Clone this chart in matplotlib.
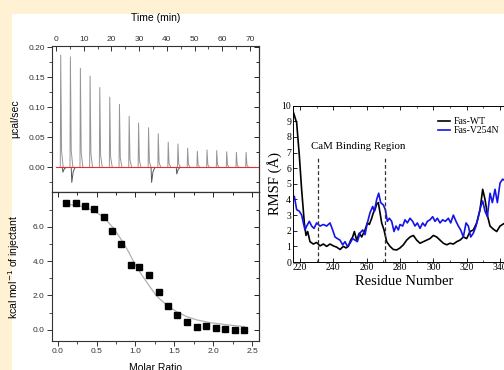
import numpy as np
import matplotlib
matplotlib.use('Agg')
import matplotlib.pyplot as plt
from matplotlib.patches import Rectangle
from matplotlib.ticker import MultipleLocator, FixedLocator, FormatStrFormatter

# ITC raw data: injection peaks (time in min, ucal/sec)
peak_times = [1.7, 5.2, 8.8, 12.3, 15.8, 19.4, 22.9, 26.4, 29.8, 33.4,
              36.9, 40.5, 44.0, 47.5, 51.0, 54.5, 58.0, 61.6, 65.1, 68.6]
peak_heights = [0.187, 0.184, 0.165, 0.152, 0.133, 0.117, 0.105, 0.085, 0.074, 0.066,
                0.056, 0.042, 0.039, 0.032, 0.027, 0.029, 0.028, 0.026, 0.025, 0.025]
dip_times = [2.5, 5.7, 34.5, 43.6]
dip_depths = [-0.008, -0.025, -0.025, -0.011]

# ITC integrated heats
molar_ratio = [0.11, 0.23, 0.35, 0.47, 0.59, 0.70, 0.82, 0.94, 1.05, 1.18,
               1.30, 1.42, 1.54, 1.66, 1.79, 1.91, 2.03, 2.15, 2.28, 2.40]
heat = [7.42, 7.42, 7.24, 7.03, 6.57, 5.77, 4.99, 3.78, 3.64, 3.20,
        2.18, 1.40, 0.86, 0.45, 0.18, 0.20, 0.08, 0.06, -0.04, -0.04]
fit_x = [0.10, 0.33, 0.46, 0.59, 0.72, 0.82, 0.91, 0.99, 1.08, 1.17,
         1.27, 1.40, 1.53, 1.66, 1.79, 1.96, 2.17, 2.40]
fit_y = [7.35, 7.18, 6.95, 6.57, 5.92, 5.24, 4.56, 3.84, 3.20, 2.61,
         1.97, 1.44, 1.05, 0.76, 0.57, 0.41, 0.29, 0.18]

# RMSF data
wt_res = [215.4, 218, 219.6, 221, 222.6, 223.6, 224.6, 226, 228, 230, 232, 234, 236, 238,
          240, 242, 244, 246, 247.6, 249, 250.4, 251.6, 252.6, 254, 255.6, 257, 259,
          260.4, 261.6, 263, 264, 265, 266, 267, 268, 269, 270.4, 272, 274, 276, 278,
          280, 282, 284, 286, 288, 290, 292, 294, 296, 298, 300, 302, 304, 306, 308,
          310, 312, 314, 316, 318, 320, 322, 324, 326, 328, 329.6, 331, 332.6, 334,
          336, 338, 340, 343]
wt_rmsf = [9.8, 8.9, 6.8, 4.6, 2.5, 1.7, 1.95, 1.3, 1.15, 1.25, 1.03, 1.15, 1.0, 1.15,
           1.03, 0.95, 0.8, 1.0, 0.9, 1.0, 1.4, 1.6, 1.95, 1.4, 1.85, 1.6, 2.05,
           2.5, 2.4, 2.8, 3.15, 3.35, 3.7, 3.8, 3.15, 2.5, 2.05, 1.3, 1.0, 0.8, 0.77,
           0.9, 1.1, 1.4, 1.6, 1.7, 1.4, 1.2, 1.3, 1.4, 1.5, 1.7, 1.6, 1.4, 1.2, 1.1,
           1.2, 1.15, 1.3, 1.4, 1.6, 1.5, 1.95, 2.05, 2.5, 3.35, 4.65, 4.0, 2.9, 2.3,
           2.1, 1.95, 2.3, 2.5]
mut_res = [215.4, 216.6, 218, 219.6, 221, 222, 223, 224, 225.6, 227, 228.4, 230, 232,
           234, 236, 238, 239.6, 241, 242.4, 244, 245.6, 247, 248.4, 250, 251.6, 253,
           254.4, 256, 257.6, 259, 260.4, 262, 263.6, 264.6, 266, 267.2, 268.4, 270,
           271.2, 272.4, 273.6, 275, 276.4, 277.6, 279, 280, 281.6, 283, 284.4, 286,
           287.6, 289, 290.4, 292, 293.6, 295, 296.4, 298, 299.6, 301, 302.4, 304,
           305.6, 307.2, 309, 310.4, 312, 313.6, 315, 316.4, 318, 319.6, 321, 322.4,
           324, 325.6, 327, 328.4, 329.6, 331, 332.4, 334, 335.4, 337, 338.4, 340,
           341.6, 343]
mut_rmsf = [4.0, 4.2, 3.35, 3.25, 3.0, 2.5, 2.05, 2.3, 2.6, 2.3, 2.15, 2.5, 2.3,
            2.4, 2.3, 2.5, 2.05, 1.6, 1.5, 1.4, 1.1, 1.3, 1.0, 1.2, 1.5, 1.4,
            1.3, 1.85, 2.05, 1.75, 2.5, 3.15, 3.55, 3.25, 4.0, 4.4, 3.8, 3.65,
            3.35, 2.6, 2.8, 2.6, 1.95, 2.3, 2.05, 2.4, 2.3, 2.7, 2.5, 2.8,
            2.6, 2.3, 2.5, 2.15, 2.5, 2.3, 2.6, 2.7, 2.9, 2.6, 2.8, 2.5,
            2.7, 2.6, 2.8, 2.5, 3.0, 2.6, 2.3, 2.05, 1.6, 2.5, 2.3, 1.6,
            1.85, 2.3, 2.9, 3.55, 3.9, 3.25, 2.9, 4.4, 3.8, 4.65, 3.8, 5.05,
            5.3, 5.2]
cam_region = [231, 271]

W, H = 504, 370
fig = plt.figure(figsize=(W / 100, H / 100), dpi=100)
fig.patch.set_facecolor('#fff2d4')
fig.add_artist(Rectangle((12 / W, 0), 1 - 12 / W, 1 - 14 / H, transform=fig.transFigure,
                         facecolor='white', edgecolor='none', zorder=-10))


def px_axes(l, t, r, b):
    # axes from pixel box (left, top, right, bottom)
    return fig.add_axes([l / W, 1 - b / H, (r - l) / W, (b - t) / H])


sans = 'Liberation Sans'
serif = 'Liberation Serif'
spine_col = '#333333'

# ---- ITC raw trace ----
ax1 = px_axes(51.7, 46, 258.7, 192)
for t, h in zip(peak_times, peak_heights):
    ax1.plot([t - 0.15, t, t + 0.3, t + 0.9], [0, h, 0.15 * h, 0], color='#959595', lw=0.7)
for t, d in zip(dip_times, dip_depths):
    ax1.plot([t - 0.2, t, t + 0.5, t + 1.2], [0, d, 0.3 * d, 0], color='#555555', lw=0.7)
ax1.plot([0, 73], [0, 0], color='#e03030', lw=0.8)
ax1.set_xlim(-1.55, 73.15)
ax1.set_ylim(-0.041, 0.202)
ax1.xaxis.tick_top()
ax1.xaxis.set_label_position('top')
ax1.xaxis.set_major_locator(MultipleLocator(10))
ax1.xaxis.set_minor_locator(MultipleLocator(5))
ax1.yaxis.set_major_locator(MultipleLocator(0.05))
ax1.yaxis.set_minor_locator(MultipleLocator(0.025))
ax1.yaxis.set_major_formatter(FormatStrFormatter('%.2f'))
ax1.tick_params(axis='x', which='both', direction='in', top=True, bottom=False,
                labelsize=6, pad=2.5, colors=spine_col)
ax1.tick_params(axis='y', which='both', direction='out', left=True, labelsize=6, pad=1.5,
                colors=spine_col)
ax1.tick_params(which='major', length=3.5, width=0.7)
ax1.tick_params(which='minor', length=2, width=0.6)
ax1.set_xlabel('Time (min)', fontsize=7.5, fontfamily=sans)
ax1.xaxis.set_label_coords(0.5, 1.19)
ax1.xaxis.label.set_verticalalignment('center')
ax1.set_ylabel('\u03bccal/sec', fontsize=7.5, fontfamily=sans)
ax1.yaxis.set_label_coords(-0.153, 0.5)
for lab in ax1.get_xticklabels() + ax1.get_yticklabels():
    lab.set_fontfamily(sans)
# right side inward ticks
ax1r = ax1.secondary_yaxis('right')
ax1r.yaxis.set_major_locator(MultipleLocator(0.05))
ax1r.yaxis.set_minor_locator(MultipleLocator(0.025))
ax1r.tick_params(which='both', direction='in', labelright=False, width=0.6)
ax1r.tick_params(which='major', length=3.5)
ax1r.tick_params(which='minor', length=2)
for s in ax1.spines.values():
    s.set_linewidth(0.8)
    s.set_color(spine_col)

# ---- ITC integrated heats ----
ax2 = px_axes(51.7, 192, 258.7, 341)
ax2.plot(fit_x, fit_y, color='#b0b0b0', lw=0.9)
ax2.plot(molar_ratio, heat, 's', color='black', ms=4.5)
ax2.set_xlim(-0.077, 2.584)
ax2.set_ylim(-0.66, 8.04)
ax2.xaxis.set_major_locator(MultipleLocator(0.5))
ax2.xaxis.set_minor_locator(MultipleLocator(0.25))
ax2.yaxis.set_major_locator(FixedLocator([0, 2, 4, 6]))
ax2.yaxis.set_minor_locator(FixedLocator([1, 3, 5, 7]))
ax2.xaxis.set_major_formatter(FormatStrFormatter('%.1f'))
ax2.yaxis.set_major_formatter(FormatStrFormatter('%.1f'))
ax2.tick_params(which='both', direction='out', labelsize=6, pad=1.5, colors=spine_col)
ax2.tick_params(which='major', length=3.5, width=0.7)
ax2.tick_params(which='minor', length=2, width=0.6)
for lab in ax2.get_xticklabels() + ax2.get_yticklabels():
    lab.set_fontfamily(sans)
ax2t = ax2.secondary_xaxis('top')
ax2t.xaxis.set_major_locator(MultipleLocator(0.5))
ax2t.xaxis.set_minor_locator(MultipleLocator(0.25))
ax2t.tick_params(which='both', direction='in', labeltop=False, width=0.6)
ax2t.tick_params(which='major', length=3.5)
ax2t.tick_params(which='minor', length=2)
ax2r = ax2.secondary_yaxis('right')
ax2r.yaxis.set_major_locator(FixedLocator([0, 2, 4, 6]))
ax2r.yaxis.set_minor_locator(FixedLocator([1, 3, 5, 7]))
ax2r.tick_params(which='both', direction='in', labelright=False, width=0.6)
ax2r.tick_params(which='major', length=3.5)
ax2r.tick_params(which='minor', length=2)
ax2.set_xlabel('Molar Ratio', fontsize=7.5, fontfamily=sans)
ax2.xaxis.set_label_coords(0.5, -0.15)
ax2.xaxis.label.set_verticalalignment('top')
ax2.set_ylabel('kcal mol$^{-1}$ of injectant', fontsize=7.5, fontfamily=sans)
ax2.yaxis.set_label_coords(-0.145, 0.5)
for s in ax2.spines.values():
    s.set_linewidth(0.8)
    s.set_color(spine_col)

# ---- RMSF ----
ax3 = px_axes(292.5, 105.7, 516.7, 262)
ax3.plot(wt_res, wt_rmsf, color='black', lw=1.2, label='Fas-WT')
ax3.plot(mut_res, mut_rmsf, color='#1414e6', lw=1.2, label='Fas-V254N')
ax3.vlines(cam_region, 0, 6.8, colors='#333333', linestyles=(0, (3, 2)), lw=0.9)
ax3.text(255, 7.4, 'CaM Binding Region', fontsize=7.8, fontfamily=serif,
         ha='center', va='center')
ax3.set_xlim(215.5, 350)
ax3.set_ylim(0, 10)
ax3.xaxis.set_major_locator(MultipleLocator(20))
ax3.xaxis.set_minor_locator(MultipleLocator(10))
ax3.yaxis.set_major_locator(MultipleLocator(1))
ax3.tick_params(which='both', direction='in', top=True, right=True, labelsize=7, pad=1)
ax3.tick_params(which='major', length=3, width=0.6)
ax3.tick_params(which='minor', length=1.5, width=0.5)
for lab in ax3.get_xticklabels() + ax3.get_yticklabels():
    lab.set_fontfamily(serif)
ax3.set_xlabel('Residue Number', fontsize=10.5, fontfamily=serif)
ax3.xaxis.set_label_coords(0.5, -0.122)
ax3.xaxis.label.set_verticalalignment('center')
ax3.set_ylabel('RMSF (\u00c5)', fontsize=10.5, fontfamily=serif)
ax3.yaxis.set_label_coords(-0.078, 0.5)
ax3.yaxis.label.set_verticalalignment('center')
for s in ax3.spines.values():
    s.set_linewidth(0.7)
leg = ax3.legend(loc='upper left', bbox_to_anchor=(438 / W, 1 - 117 / H),
                 bbox_transform=fig.transFigure, frameon=False, borderpad=0,
                 borderaxespad=0, handlelength=1.25, handletextpad=0.35,
                 labelspacing=0.05, prop={'family': serif, 'size': 7})

fig.savefig('out.png', dpi=100, facecolor=fig.get_facecolor())
